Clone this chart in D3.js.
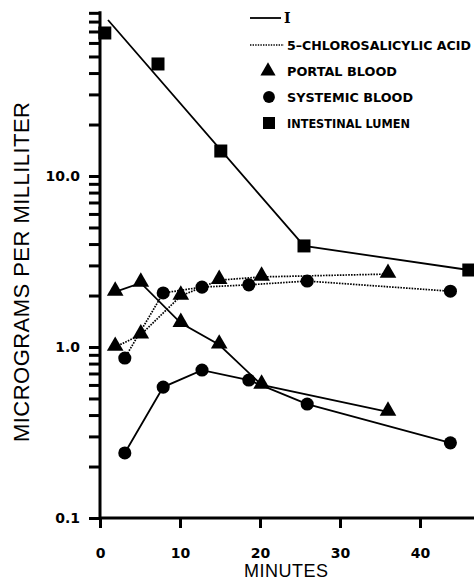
<!DOCTYPE html>
<html>
<head>
<meta charset="utf-8">
<script src="https://cdn.jsdelivr.net/npm/d3@7"></script>
<style>
  html, body { margin: 0; padding: 0; background: #fff; }
  svg { display: block; }
  .axis path, .axis line { stroke: #000; }
  .axis text { font-family: "DejaVu Sans", sans-serif; font-weight: bold; font-size: 14px; fill: #000; }
</style>
</head>
<body>
<svg id="chart" width="474" height="581"></svg>
<script>
// values (minutes, micrograms per milliliter)
const minutesLumen = [0.6, 7.25, 15.1, 25.5, 46.1];
const lumenI = [68.6, 45.2, 14.0, 3.90, 2.82];
// the drawn line for the lumen is a fitted line, not point to point
const lumenFitMinutes = [1.0, 25.5, 46.1];
const lumenFitI = [81.7, 3.90, 2.82];

const minutesPortal = [1.9, 5.1, 10.1, 14.9, 20.2, 36];
const portalI = [2.10, 2.37, 1.38, 1.03, 0.60, 0.417];
const portalCSA = [1.0, 1.18, 1.99, 2.46, 2.57, 2.67];

const minutesSystemic = [3.1, 7.9, 12.75, 18.6, 25.9, 43.8];
const systemicI = [0.240, 0.583, 0.733, 0.641, 0.464, 0.275];
const systemicCSA = [0.862, 2.07, 2.24, 2.31, 2.43, 2.12];

const xTicks = [0, 10, 20, 30, 40];
const yLabelled = [0.1, 1, 10];
const yTicks = [0.1,0.2,0.3,0.4,0.5,0.6,0.7,0.8,0.9,1,2,3,4,5,6,7,8,9,10,20,30,40,50,60,70,80,90];

const legendNames = ['I', '5\u2013CHLOROSALICYLIC ACID', 'PORTAL BLOOD', 'SYSTEMIC BLOOD', 'INTESTINAL LUMEN'];

const svg = d3.select('#chart');

const x = d3.scaleLinear().domain([0, 46.75]).range([100, 474]);
const y = d3.scaleLog().domain([0.1, 100]).range([518, 5]);

// y axis
const yAxis = d3.axisLeft(y)
  .tickValues(yTicks)
  .tickSize(11)
  .tickPadding(9)
  .tickFormat(d => yLabelled.includes(d) ? d3.format('.1f')(d) : '');

const gy = svg.append('g')
  .attr('class', 'axis')
  .attr('transform', 'translate(100,0)')
  .call(yAxis);
gy.select('.domain').remove();
gy.selectAll('line').attr('stroke-width', 3);
gy.append('line')
  .attr('x1', 0).attr('x2', 0)
  .attr('y1', y(90) - 1.5).attr('y2', y(0.1) + 1.5)
  .attr('stroke', '#000').attr('stroke-width', 3);
gy.selectAll('text').attr('font-size', 15);

// x axis
const xAxis = d3.axisBottom(x)
  .tickValues(xTicks)
  .tickSize(10)
  .tickPadding(20)
  .tickFormat(d3.format('d'));

const gx = svg.append('g')
  .attr('class', 'axis')
  .attr('transform', 'translate(0,518)')
  .call(xAxis);
gx.select('.domain').remove();
gx.selectAll('line').attr('stroke-width', 3);
gx.append('line')
  .attr('x1', 100).attr('x2', 474)
  .attr('y1', 0).attr('y2', 0)
  .attr('stroke', '#000').attr('stroke-width', 3);
gx.selectAll('text').attr('font-size', 15);

// axis titles
svg.append('text')
  .attr('transform', 'translate(29,272) rotate(-90)')
  .attr('text-anchor', 'middle')
  .attr('font-family', '"Liberation Sans", Arial, sans-serif')
  .attr('font-size', 22)
  .attr('textLength', 340)
  .text('MICROGRAMS PER MILLILITER');

svg.append('text')
  .attr('x', 286)
  .attr('y', 577)
  .attr('text-anchor', 'middle')
  .attr('font-family', '"Liberation Sans", Arial, sans-serif')
  .attr('font-size', 18)
  .attr('textLength', 84)
  .text('MINUTES');

// lines
const line = d3.line().x(d => x(d[0])).y(d => y(d[1]));
const zip = (a, b) => a.map((v, i) => [v, b[i]]);

const solid = { stroke: '#000', width: 1.8, dash: null };
const dotted = { stroke: '#000', width: 1.7, dash: '1.6,1.2' };

const lines = [
  [zip(lumenFitMinutes, lumenFitI), solid],
  [zip(minutesPortal, portalI), solid],
  [zip(minutesSystemic, systemicI), solid],
  [zip(minutesPortal, portalCSA), dotted],
  [zip(minutesSystemic, systemicCSA), dotted]
];

lines.forEach(([pts, st]) => {
  svg.append('path')
    .datum(pts)
    .attr('d', line)
    .attr('fill', 'none')
    .attr('stroke', st.stroke)
    .attr('stroke-width', st.width)
    .attr('stroke-dasharray', st.dash);
});

// markers
const tri = d3.symbol(d3.symbolTriangle, 120);
const circ = d3.symbol(d3.symbolCircle, 135);

[portalI, portalCSA].forEach(vals => {
  svg.append('g').selectAll('path')
    .data(zip(minutesPortal, vals))
    .join('path')
    .attr('d', tri)
    .attr('transform', d => `translate(${x(d[0])},${y(d[1]) - 1})`)
    .attr('fill', '#000');
});

[systemicI, systemicCSA].forEach(vals => {
  svg.append('g').selectAll('path')
    .data(zip(minutesSystemic, vals))
    .join('path')
    .attr('d', circ)
    .attr('transform', d => `translate(${x(d[0])},${y(d[1])})`)
    .attr('fill', '#000');
});

svg.append('g').selectAll('rect')
  .data(zip(minutesLumen, lumenI))
  .join('rect')
  .attr('x', d => x(d[0]) - 6.5)
  .attr('y', d => y(d[1]) - 6.5)
  .attr('width', 13)
  .attr('height', 13)
  .attr('fill', '#000');

// legend
const lg = svg.append('g');
const rowsY = [18, 45, 71, 97, 123];
const textLens = [null, 184, 110, 126, 123];

lg.append('line')
  .attr('x1', 250).attr('x2', 281).attr('y1', rowsY[0]).attr('y2', rowsY[0])
  .attr('stroke', '#000').attr('stroke-width', 1.8);
lg.append('line')
  .attr('x1', 250).attr('x2', 284).attr('y1', rowsY[1]).attr('y2', rowsY[1])
  .attr('stroke', '#000').attr('stroke-width', 1.4).attr('stroke-dasharray', '1.4,1.2');
lg.append('path').attr('d', d3.symbol(d3.symbolTriangle, 100))
  .attr('transform', `translate(268,${rowsY[2]})`);
lg.append('path').attr('d', d3.symbol(d3.symbolCircle, 110))
  .attr('transform', `translate(269,${rowsY[3]})`);
lg.append('rect')
  .attr('x', 263).attr('y', rowsY[4] - 6).attr('width', 12).attr('height', 12);

legendNames.forEach((name, i) => {
  const t = lg.append('text')
    .attr('y', rowsY[i] + 4.5)
    .attr('fill', '#000')
    .text(name);
  if (i === 0) {
    t.attr('x', 284)
      .attr('font-family', '"DejaVu Serif", serif')
      .attr('font-weight', 'bold')
      .attr('font-size', 14)
      .attr('y', rowsY[i] + 5);
  } else {
    t.attr('x', 287)
      .attr('font-family', '"DejaVu Sans", sans-serif')
      .attr('font-weight', 'bold')
      .attr('font-size', 12.5)
      .attr('textLength', textLens[i])
      .attr('lengthAdjust', 'spacingAndGlyphs');
  }
});
</script>
</body>
</html>
